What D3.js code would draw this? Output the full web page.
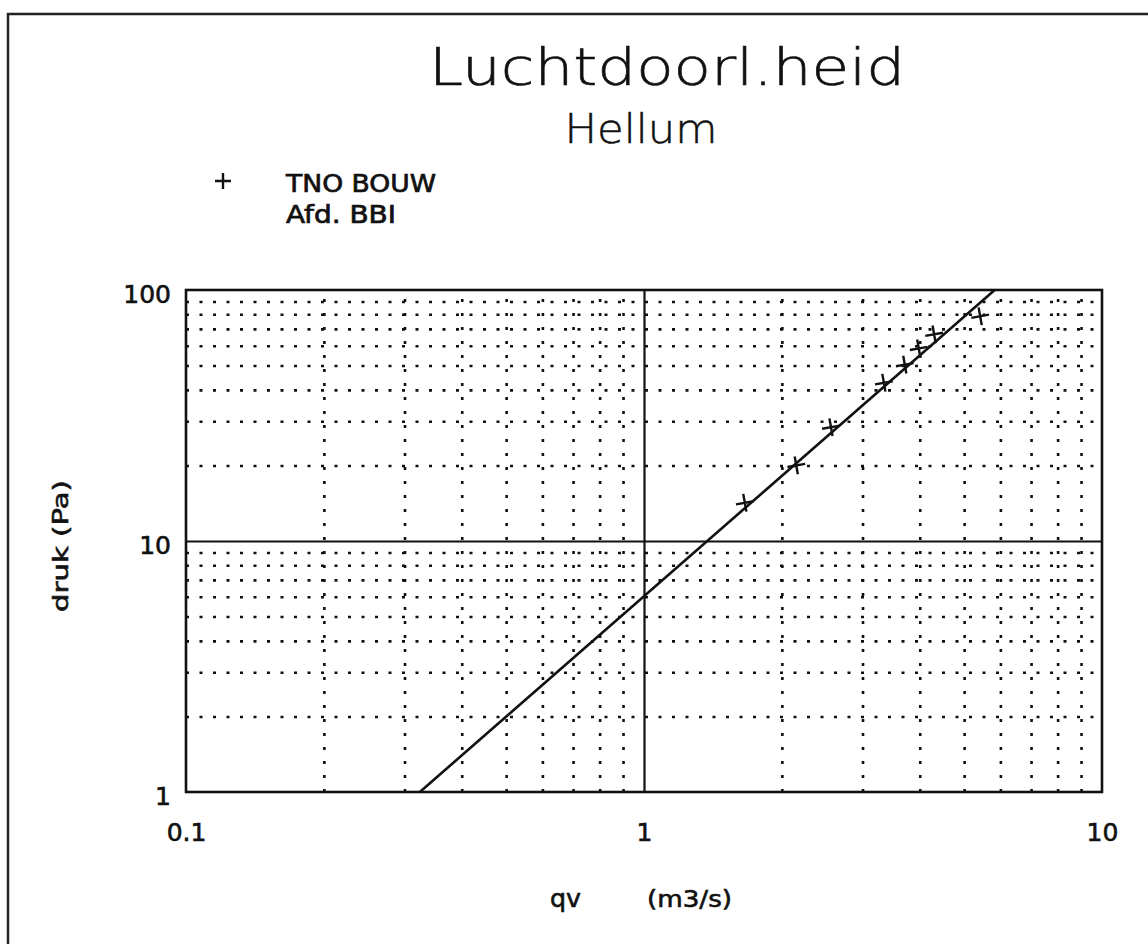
<!DOCTYPE html>
<html>
<head>
<meta charset="utf-8">
<script src="https://cdn.jsdelivr.net/npm/d3@7"></script>
<style>
  body { margin:0; background:#fff; }
  text { font-family: "DejaVu Sans", sans-serif; fill:#111; }
</style>
</head>
<body>
<script>
// meetpunten (qv in m3/s, druk in Pa)
var qv   = [1.66, 2.15, 2.56, 3.34, 3.71, 3.98, 4.30, 5.42];
var druk = [14.2, 20.0, 28.4, 42.7, 50.4, 58.5, 66.6, 78.6];
// regressielijn, eindpunten
var fitQ = [0.324, 5.83];
var fitP = [1, 100];
var xTicks = [0.1, 1, 10];
var yTicks = [1, 10, 100];
var xMinor = [0.2,0.3,0.4,0.5,0.6,0.7,0.8,0.9,2,3,4,5,6,7,8,9];
var yMinor = [2,3,4,5,6,7,8,9,20,30,40,50,60,70,80,90];

var W = 1148, H = 944;
var pLeft = 186, pRight = 1102, pTop = 290, pBottom = 792;

var svg = d3.select('body').append('svg').attr('width',W).attr('height',H);

var x = d3.scaleLog().domain([0.1,10]).range([pLeft,pRight]);
var y = d3.scaleLog().domain([1,100]).range([pBottom,pTop]);

// outer frame (only top + left are visible)
svg.append('path')
  .attr('d','M8,944 V14 H1148')
  .attr('fill','none').attr('stroke','#222').attr('stroke-width',2.5);

// dotted minor grid
svg.append('g')
  .attr('transform','translate(0,'+pBottom+')')
  .call(d3.axisBottom(x).tickValues(xMinor).tickSize(-(pBottom-pTop)).tickFormat(''))
  .call(function(g){ g.select('.domain').remove(); })
  .selectAll('line').attr('stroke','#111').attr('stroke-width',2.6).attr('stroke-dasharray','3,11');
svg.append('g')
  .attr('transform','translate('+pLeft+',0)')
  .call(d3.axisLeft(y).tickValues(yMinor).tickSize(-(pRight-pLeft)).tickFormat(''))
  .call(function(g){ g.select('.domain').remove(); })
  .selectAll('line').attr('stroke','#111').attr('stroke-width',2.6).attr('stroke-dasharray','3,10.5');

// solid decade lines
svg.append('g')
  .attr('transform','translate(0,'+pBottom+')')
  .call(d3.axisBottom(x).tickValues([1]).tickSize(-(pBottom-pTop)).tickFormat(''))
  .call(function(g){ g.select('.domain').remove(); })
  .selectAll('line').attr('stroke','#111').attr('stroke-width',2.2);
svg.append('g')
  .attr('transform','translate('+pLeft+',0)')
  .call(d3.axisLeft(y).tickValues([10]).tickSize(-(pRight-pLeft)).tickFormat(''))
  .call(function(g){ g.select('.domain').remove(); })
  .selectAll('line').attr('stroke','#111').attr('stroke-width',2.2);

// plot frame
svg.append('rect')
  .attr('x',pLeft).attr('y',pTop).attr('width',pRight-pLeft).attr('height',pBottom-pTop)
  .attr('fill','none').attr('stroke','#111').attr('stroke-width',2.6);

// tick labels
var xAx = svg.append('g')
  .attr('transform','translate(0,'+pBottom+')')
  .call(d3.axisBottom(x).tickValues(xTicks).tickSize(0).tickFormat(function(d){ return String(d); }));
xAx.select('.domain').remove();
xAx.selectAll('text').attr('y',49).attr('dy',null)
  .attr('font-size',25).attr('font-family','DejaVu Sans').attr('fill','#111')
  .attr('stroke','#111').attr('stroke-width',0.6);

var yAx = svg.append('g')
  .attr('transform','translate('+pLeft+',0)')
  .call(d3.axisLeft(y).tickValues(yTicks).tickSize(0).tickFormat(function(d){ return String(d); }));
yAx.select('.domain').remove();
yAx.selectAll('text').attr('x',-15).attr('dy',null).attr('y',12)
  .attr('font-size',25).attr('font-family','DejaVu Sans').attr('fill','#111')
  .attr('stroke','#111').attr('stroke-width',0.6);

// fitted line
var line = d3.line().x(function(d){ return x(d[0]); }).y(function(d){ return y(d[1]); });
svg.append('path')
  .datum(d3.zip(fitQ, fitP))
  .attr('d', line)
  .attr('fill','none').attr('stroke','#111').attr('stroke-width',2.6);

// measured points as '+'
svg.selectAll('path.pt')
  .data(d3.zip(qv, druk))
  .enter().append('path')
  .attr('class','pt')
  .attr('transform',function(d){ return 'translate('+x(d[0])+','+y(d[1])+') rotate(-10)'; })
  .attr('d','M-9,0H9M0,-9V9')
  .attr('stroke','#111').attr('stroke-width',2.4);

// titles
svg.append('text').attr('x',667).attr('y',85).attr('text-anchor','middle')
  .attr('font-size',51).attr('font-weight',200)
  .attr('stroke','#111').attr('stroke-width',0.6)
  .attr('textLength',476).attr('lengthAdjust','spacingAndGlyphs')
  .text('Luchtdoorl.heid');
svg.append('text').attr('x',641).attr('y',143).attr('text-anchor','middle')
  .attr('font-size',40).attr('font-weight',200)
  .attr('stroke','#111').attr('stroke-width',0.5)
  .attr('textLength',153).attr('lengthAdjust','spacingAndGlyphs')
  .text('Hellum');

// legend
svg.append('path')
  .attr('d','M215,181H231M223,173V189')
  .attr('stroke','#111').attr('stroke-width',2.4);
svg.append('text').attr('x',286).attr('y',192).attr('font-size',24)
  .attr('stroke','#111').attr('stroke-width',0.7)
  .attr('textLength',150).attr('lengthAdjust','spacingAndGlyphs').text('TNO  BOUW');
svg.append('text').attr('x',286).attr('y',223).attr('font-size',24)
  .attr('stroke','#111').attr('stroke-width',0.7)
  .attr('textLength',110).attr('lengthAdjust','spacingAndGlyphs').text('Afd.  BBI');

// axis titles
svg.append('text')
  .attr('transform','translate(68,546) rotate(-90)')
  .attr('text-anchor','middle').attr('font-size',22)
  .attr('stroke','#111').attr('stroke-width',0.6)
  .attr('textLength',132).attr('lengthAdjust','spacingAndGlyphs')
  .text('druk  (Pa)');
svg.append('text').attr('x',550).attr('y',907).attr('font-size',24)
  .attr('stroke','#111').attr('stroke-width',0.6)
  .attr('textLength',31).attr('lengthAdjust','spacingAndGlyphs').text('qv');
svg.append('text').attr('x',647).attr('y',907).attr('font-size',23)
  .attr('stroke','#111').attr('stroke-width',0.6)
  .attr('textLength',85).attr('lengthAdjust','spacingAndGlyphs').text('(m3/s)');
</script>
</body>
</html>
